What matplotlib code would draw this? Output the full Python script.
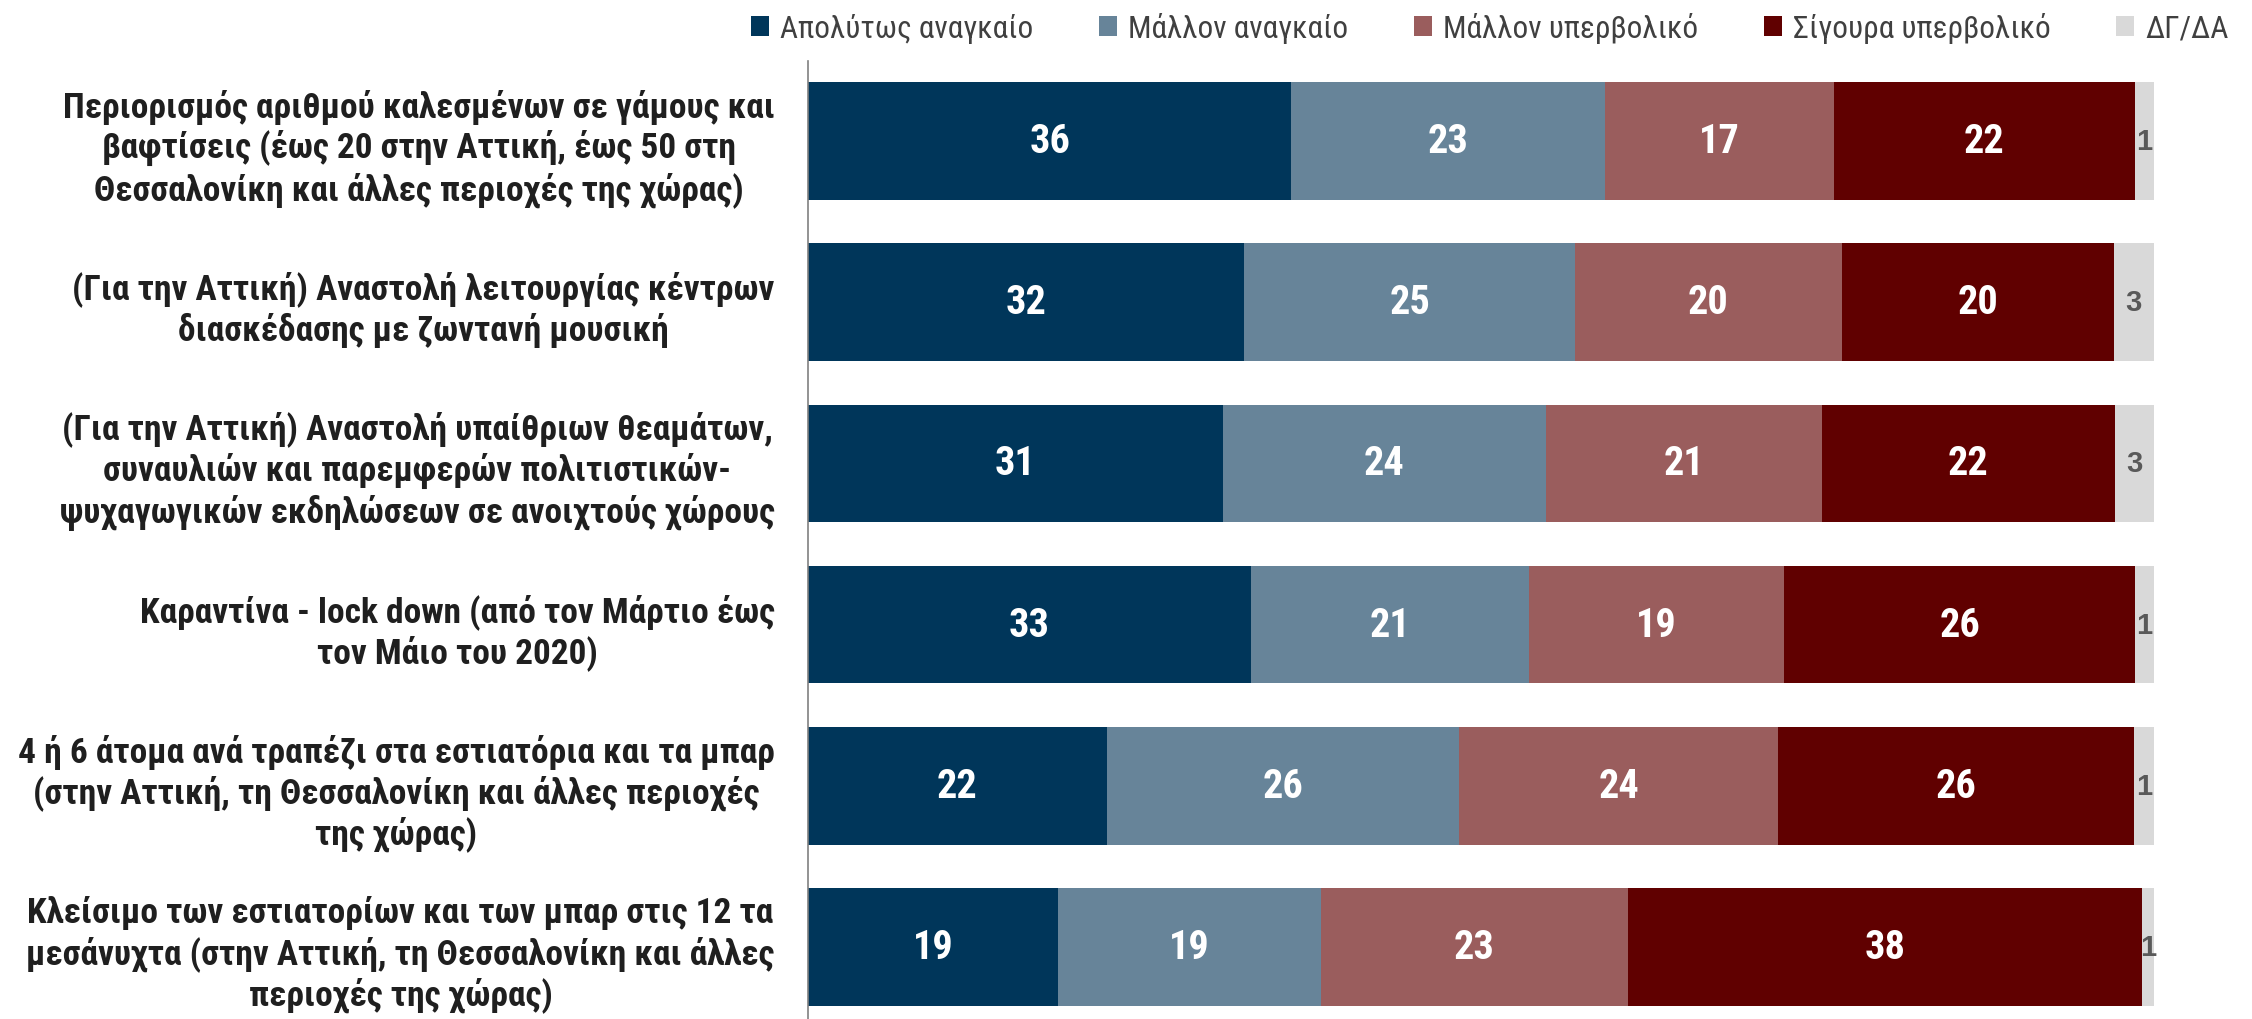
import os
import matplotlib
matplotlib.use("Agg")
import matplotlib.pyplot as plt
from matplotlib import font_manager as fm
from matplotlib.font_manager import FontProperties
from matplotlib.patches import Patch
import numpy as np

categories = [
    "Περιορισμός αριθμού καλεσμένων σε γάμους και\nβαφτίσεις (έως 20 στην Αττική, έως 50 στη\nΘεσσαλονίκη και άλλες περιοχές της χώρας)",
    "(Για την Αττική) Αναστολή λειτουργίας κέντρων\nδιασκέδασης με ζωντανή μουσική",
    "(Για την Αττική) Αναστολή υπαίθριων θεαμάτων,\nσυναυλιών και παρεμφερών πολιτιστικών-\nψυχαγωγικών εκδηλώσεων σε ανοιχτούς χώρους",
    "Καραντίνα - lock down (από τον Μάρτιο έως\nτον Μάιο του 2020)",
    "4 ή 6 άτομα ανά τραπέζι στα εστιατόρια και τα μπαρ\n(στην Αττική, τη Θεσσαλονίκη και άλλες περιοχές\nτης χώρας)",
    "Κλείσιμο των εστιατορίων και των μπαρ στις 12 τα\nμεσάνυχτα (στην Αττική, τη Θεσσαλονίκη και άλλες\nπεριοχές της χώρας)",
]
series = ["Απολύτως αναγκαίο", "Μάλλον αναγκαίο", "Μάλλον υπερβολικό", "Σίγουρα υπερβολικό", "ΔΓ/ΔΑ"]
absolutely = [35.9, 32.4, 30.8, 32.9, 22.2, 18.6]
rather_nec = [23.3, 24.6, 24.0, 20.7, 26.2, 19.5]
rather_exc = [17.0, 19.8, 20.5, 18.9, 23.7, 22.8]
surely_exc = [22.4, 20.2, 21.8, 26.1, 26.4, 38.2]
dk_na = [1.4, 3.0, 2.9, 1.4, 1.5, 0.9]
labels_abs = [36, 32, 31, 33, 22, 19]
labels_rn = [23, 25, 24, 21, 26, 19]
labels_re = [17, 20, 21, 19, 24, 23]
labels_se = [22, 20, 22, 26, 26, 38]
labels_dk = [1, 3, 3, 1, 1, 1]

colors = ["#00365A", "#678499", "#9A5D5D", "#600000", "#D9D9D9"]


def _w(f):
    w = f.weight
    if isinstance(w, str):
        w = fm.weight_dict.get(w, 400)
    return w


def find_narrow(bold):
    rank_fam = ["liberation sans narrow", "arial narrow", "roboto condensed",
                "noto sans", "dejavu sans", "open sans", "lato", "inter"]
    best = None
    for f in fm.fontManager.ttflist:
        nm = f.name.lower()
        fn = os.path.basename(f.fname).lower()
        if "italic" in fn or "oblique" in fn or f.style != "normal":
            continue
        cond = ("narrow" in nm or "condensed" in nm or "narrow" in fn or "condensed" in fn
                or f.stretch in ("condensed", "semi-condensed"))
        if not cond or "extra" in fn or "ultra" in fn:
            continue
        semi = 1 if ("semi" in fn or f.stretch == "semi-condensed") else 0
        w = _w(f)
        if bold and not (650 <= w <= 750):
            continue
        if not bold and not (380 <= w <= 420):
            continue
        fam_rank = len(rank_fam)
        for i, r in enumerate(rank_fam):
            if nm.startswith(r):
                fam_rank = i
                break
        key = (fam_rank, semi)
        if best is None or key < best[0]:
            best = (key, f.fname)
    return best[1] if best else None


nb = find_narrow(True)
nr = find_narrow(False)
scale = 1.0 if (nb and nr) else 0.82


def fp(bold, size):
    path = nb if bold else nr
    if path and nb and nr:
        return FontProperties(fname=path, size=size)
    return FontProperties(family=["Liberation Sans", "DejaVu Sans"],
                          weight="bold" if bold else "normal", size=size * scale)


fig = plt.figure(figsize=(22.52, 10.20), dpi=100)
ax = fig.add_axes([808 / 2252, -8.5 / 1020, (2154 - 808) / 2252, 967 / 1020])

data = [absolutely, rather_nec, rather_exc, surely_exc, dk_na]
labs = [labels_abs, labels_rn, labels_re, labels_se, labels_dk]
y = np.arange(len(categories))
left = np.zeros(len(categories))
for i, (vals, lab) in enumerate(zip(data, labs)):
    bars = ax.barh(y, vals, left=left, height=0.73, color=colors[i], label=series[i])
    if i < 4:
        ax.bar_label(bars, labels=[str(v) for v in lab], label_type="center",
                     color="white", fontproperties=fp(True, 29))
    else:
        ax.bar_label(bars, labels=[str(v) for v in lab], label_type="center",
                     color="#595959", fontweight="bold", fontsize=21,
                     family=["Liberation Sans", "DejaVu Sans"])
    left += np.array(vals)

ax.set_xlim(0, 100)
ax.set_ylim(5.5, -0.5)
ax.set_xticks([])
ax.set_yticks(y)
ax.set_yticklabels(categories, color="#1F1F1F", fontproperties=fp(True, 25.5))
for t in ax.get_yticklabels():
    t.set_multialignment("center")
ax.tick_params(axis="y", length=0, pad=24)
for s in ["top", "right", "bottom"]:
    ax.spines[s].set_visible(False)
ax.spines["left"].set_color("#808080")
ax.spines["left"].set_linewidth(1.2)

handles = [Patch(facecolor=c, edgecolor="none") for c in colors]
fig.legend(handles, series, loc="upper right", bbox_to_anchor=(0.998, 1.006), ncol=5,
           frameon=False, prop=fp(False, 22.5), labelcolor="#404040",
           handlelength=0.58, handleheight=0.62, handletextpad=0.35, columnspacing=2.1,
           borderaxespad=0.2)

fig.savefig("out.png", dpi=100)
